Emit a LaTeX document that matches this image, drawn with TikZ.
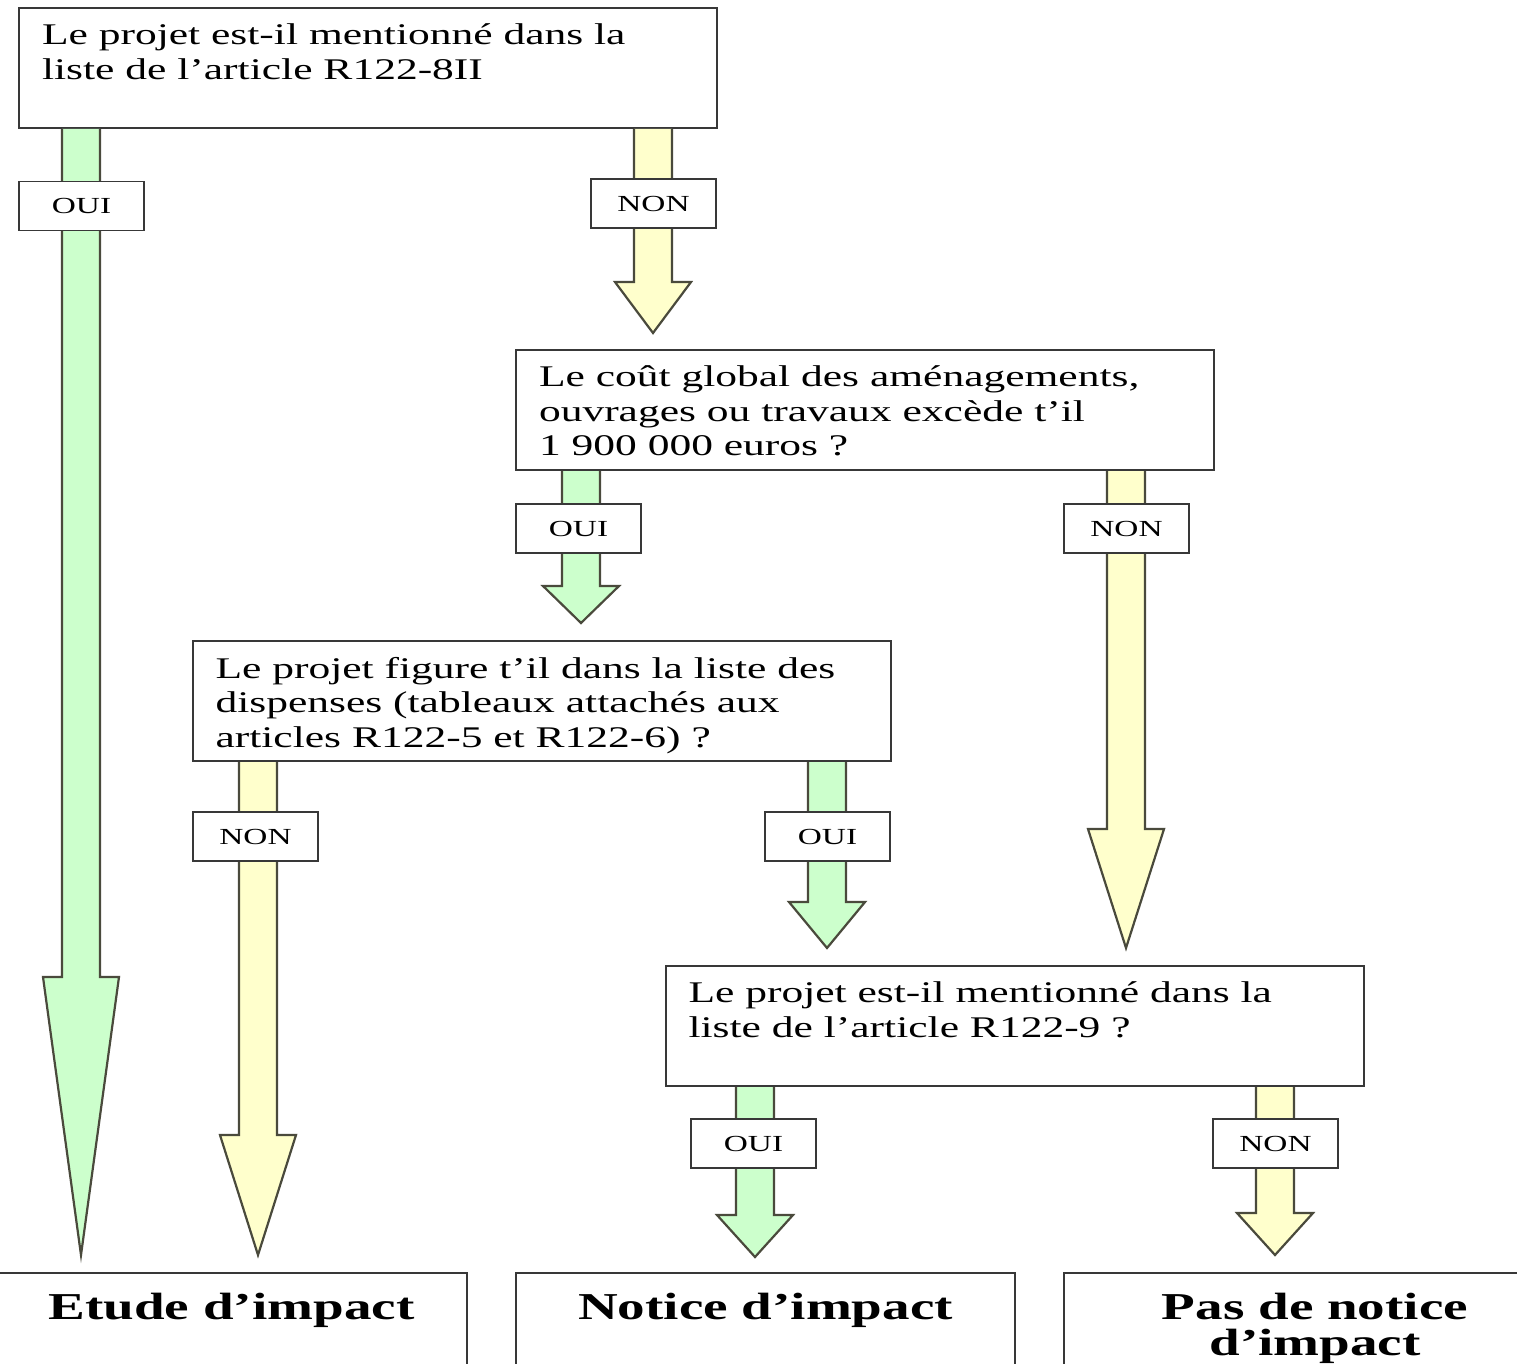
\documentclass[tikz,border=0pt]{standalone}
\usepackage{fontspec}
\setmainfont{Liberation Serif}[FakeStretch=1.45]
\usetikzlibrary{calc}
\definecolor{ouigreen}{HTML}{CCFFCC}
\definecolor{nonyellow}{HTML}{FFFFCC}
\definecolor{framegray}{HTML}{383838}
\definecolor{arrowgray}{HTML}{4A4A3C}
\tikzset{
	question/.style={draw=framegray, line width=2pt, fill=white, minimum width=698, minimum height=120, inner sep=0pt, font=\fontsize{30}{34.5}\selectfont},
	result/.style={draw=framegray, line width=2pt, minimum height=130, inner sep=0pt, font=\bfseries\fontsize{38}{36}\selectfont},
	tag/.style={draw=framegray, line width=1.8pt, fill=white, minimum width=125, minimum height=49, inner sep=0pt, font=\fontsize{23}{26}\selectfont},
	arrowline/.style={draw=arrowgray, line width=2.2pt, line join=miter}
}
\newcommand{\qtext}[1]{\parbox[t][88pt][t]{652pt}{\raggedright #1}}
\newcommand{\rtext}[1]{\parbox[t][90pt][t]{440pt}{\centering #1}}
% block arrow: start, tip, head length, fill
\newcommand{\bigarrow}[4]{%
	\draw[arrowline, fill=#4] let \p1=(#1), \p2=(#2) in
		(\x2-19,\y1) -- (\x2-19,\y2+#3) -- (\x2-38,\y2+#3) -- (\x2,\y2)
		-- (\x2+38,\y2+#3) -- (\x2+19,\y2+#3) -- (\x2+19,\y1);}

\begin{document}
\begin{tikzpicture}[x=1pt, y=-1pt]
	\useasboundingbox (0,0) rectangle (1517,1364);
	\clip (0,0) rectangle (1517,1364);

	% questions
	\node[question] (q1) at (368,68) {\qtext{Le projet est-il mentionné dans la\\liste de l’article R122-8II}};
	\node[question] (q2) at (865,410) {\qtext{Le coût global des aménagements,\\ouvrages ou travaux excède t’il\\1 900 000 euros ?}};
	\node[question] (q3) at (541.5,701) {\qtext{Le projet figure t’il dans la liste des\\dispenses (tableaux attachés aux\\articles R122-5 et R122-6) ?}};
	\node[question] (q4) at (1014.5,1026) {\qtext{Le projet est-il mentionné dans la\\liste de l’article R122-9 ?}};

	% results
	\node[result, minimum width=471] (r1) at (231.5,1338) {\rtext{Etude d’impact}};
	\node[result, minimum width=499] (r2) at (765.5,1338) {\rtext{Notice d’impact}};
	\node[result, minimum width=502] (r3) at (1315,1338) {\rtext{Pas de notice\\d’impact}};

	% arrow tips
	\coordinate (t1) at (81,1255);
	\coordinate (t2) at (653,333);
	\coordinate (t3) at (581,623);
	\coordinate (t4) at (1126,948);
	\coordinate (t5) at (258,1255);
	\coordinate (t6) at (827,948);
	\coordinate (t7) at (755,1257);
	\coordinate (t8) at (1275,1255);

	\bigarrow{q1.south -| t1}{t1}{278}{ouigreen}
	\bigarrow{q1.south -| t2}{t2}{51}{nonyellow}
	\bigarrow{q2.south -| t3}{t3}{37}{ouigreen}
	\bigarrow{q2.south -| t4}{t4}{119}{nonyellow}
	\bigarrow{q3.south -| t5}{t5}{120}{nonyellow}
	\bigarrow{q3.south -| t6}{t6}{46}{ouigreen}
	\bigarrow{q4.south -| t7}{t7}{42}{ouigreen}
	\bigarrow{q4.south -| t8}{t8}{42}{nonyellow}

	% answers
	\node[tag] (l1) at (81.5,206) {OUI};
	\node[tag] (l2) at (653.5,203.5) {NON};
	\node[tag] (l3) at (578.5,528.5) {OUI};
	\node[tag] (l4) at (1126.5,528.5) {NON};
	\node[tag] (l5) at (255.5,836.5) {NON};
	\node[tag] (l6) at (827.5,836.5) {OUI};
	\node[tag] (l7) at (753.5,1143.5) {OUI};
	\node[tag] (l8) at (1275.5,1143.5) {NON};
\end{tikzpicture}
\end{document}
